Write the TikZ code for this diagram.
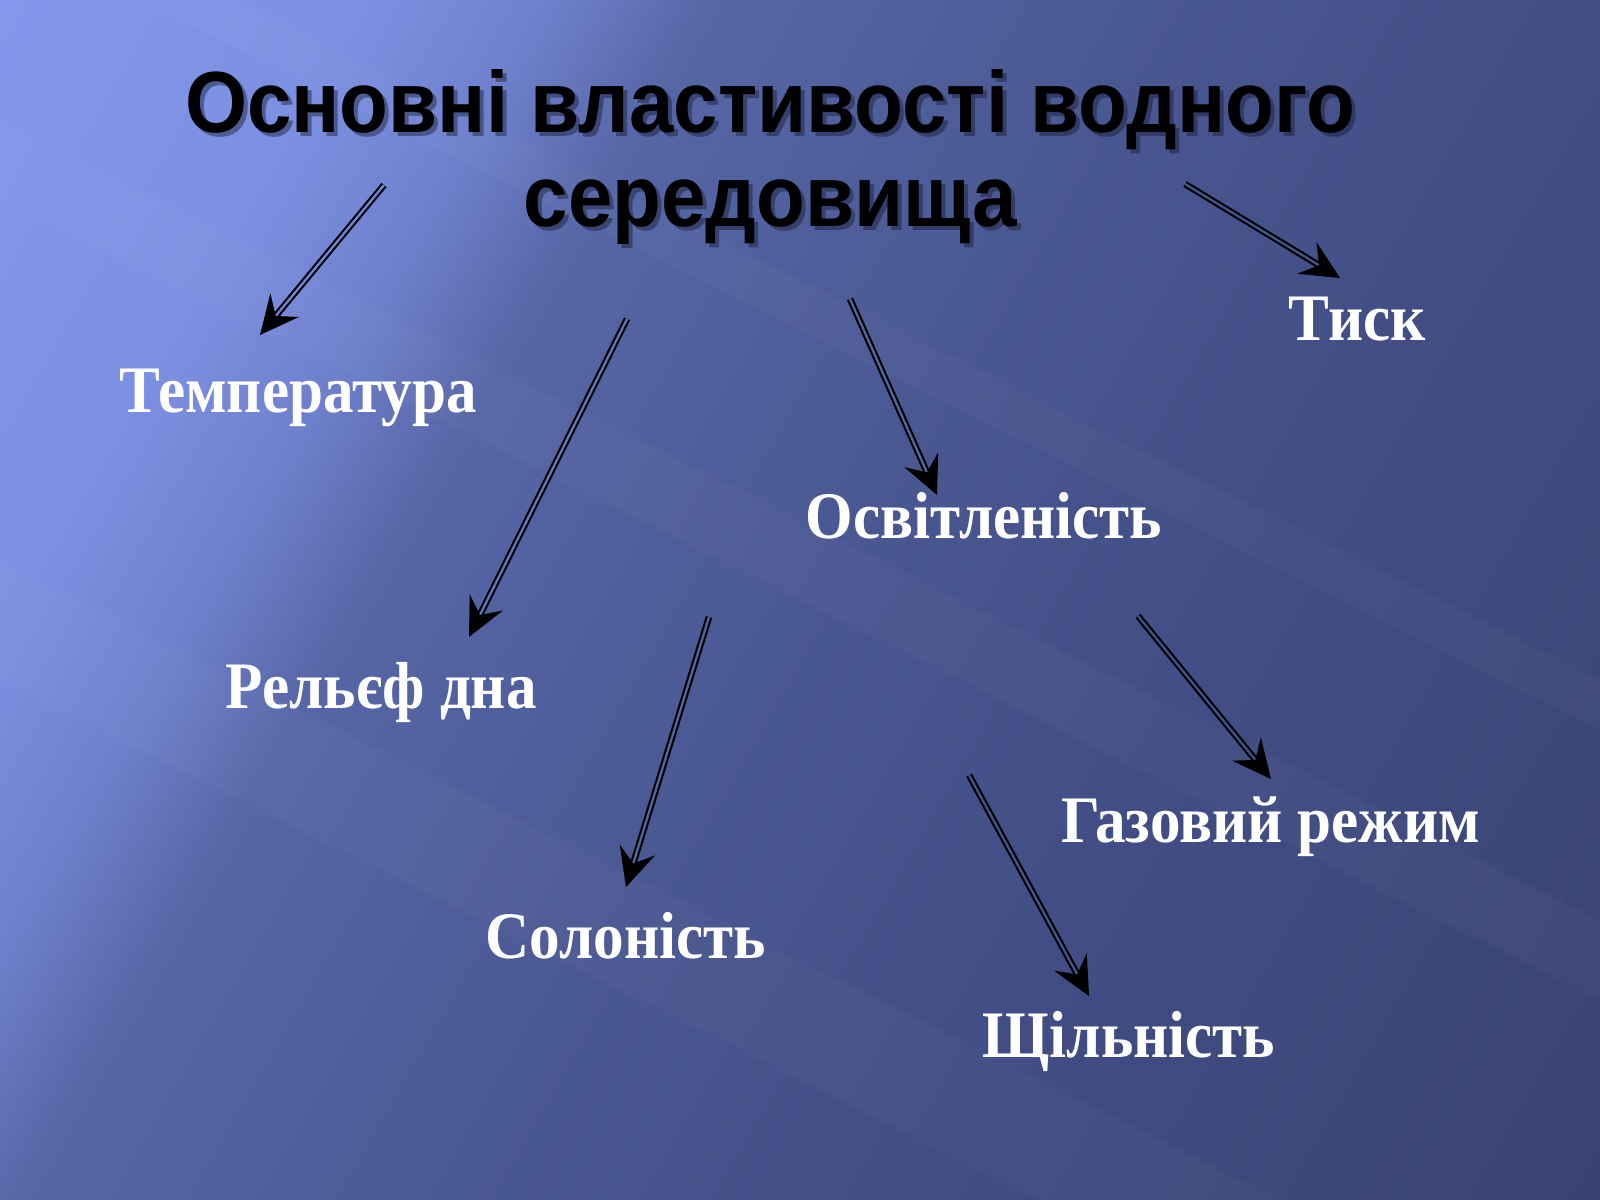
\documentclass[tikz,border=0pt]{standalone}
\usepackage{fontspec}
\usetikzlibrary{arrows.meta,calc}
\newfontfamily\titlefont{Liberation Sans}[FakeStretch=0.92]
\newfontfamily\labelfont{Liberation Serif}[FakeStretch=0.92]
\definecolor{bg0}{HTML}{8398EC}
\definecolor{bg1}{HTML}{7C90E2}
\definecolor{bg2}{HTML}{6E80CC}
\definecolor{bg3}{HTML}{5666A6}
\definecolor{bg4}{HTML}{4A5892}
\definecolor{bg5}{HTML}{414D84}
\definecolor{bg6}{HTML}{394372}
\definecolor{gA}{HTML}{7385D5}
\definecolor{gB}{HTML}{6474BD}
\definecolor{gC}{HTML}{56669F}
\definecolor{gD}{HTML}{46538C}
\definecolor{gE}{HTML}{56649F}
\definecolor{gF}{HTML}{44508A}
\definecolor{shadowc}{HTML}{161A33}
\pgfdeclarehorizontalshading{bgshade}{100bp}{color(0bp)=(bg0); color(25bp)=(bg0); color(33bp)=(bg1); color(37bp)=(bg2); color(40.5bp)=(bg3); color(50.2bp)=(bg4); color(60.2bp)=(bg5); color(75bp)=(bg6); color(100bp)=(bg6)}
\tikzset{
  conn/.style={draw=black, double=#1, double distance=0.65pt, line width=0.6pt,
    -{Stealth[length=11pt, width=10.5pt, inset=4pt]}},
  lbl/.style={text=white, font=\labelfont\bfseries\fontsize{18.9}{22}\selectfont,
    inner sep=0pt, anchor=base west},
  ttl/.style={font=\titlefont\bfseries\fontsize{24.7}{30}\selectfont,
    inner sep=0pt, anchor=base},
  streak/.style={fill=white, opacity=0.025}
}
\begin{document}
\begin{tikzpicture}[x=0.01cm, y=-0.01cm]
\useasboundingbox (0,0) rectangle (1600,1200);
% background
\begin{scope}
  \clip (0,0) rectangle (1600,1200);
  \begin{scope}[transform canvas={rotate around={-30:(0,0)}}]
    \shade[shading=bgshade] (0,-800) rectangle (1986,1040);
  \end{scope}
  \fill[streak] (0,560) -- (1600,1360) -- (1600,1480) -- (0,680) -- cycle;
  \fill[streak] (0,120) -- (1600,920) -- (1600,1000) -- (0,200) -- cycle;
  \fill[streak] (0,-120) -- (1600,680) -- (1600,730) -- (0,-70) -- cycle;
\end{scope}
% title
\node[ttl, text=shadowc, opacity=0.45] at (774,136) {Основні властивості водного};
\node[ttl, text=shadowc, opacity=0.45] at (774,230) {середовища};
\node[ttl, text=black] (title) at (770,132) {Основні властивості водного};
\node[ttl, text=black] (title2) at (770,226) {середовища};
% labels
\node[lbl] (temp) at (119,412) {Температура};
\node[lbl] (tysk) at (1288,340) {Тиск};
\node[lbl] (osv) at (805,538) {Освітленість};
\node[lbl] (rel) at (225,708) {Рельєф дна};
\node[lbl] (sol) at (485,958) {Солоність};
\node[lbl] (gaz) at (1061,842) {Газовий режим};
\node[lbl] (shch) at (982,1057) {Щільність};
% arrow end points
\coordinate (s1) at (384,185);   \coordinate (e1) at (260,335);
\coordinate (s2) at (627,319);   \coordinate (e2) at (469,637);
\coordinate (s3) at (850,299);   \coordinate (e3) at (937,495);
\coordinate (s4) at (1185,184);  \coordinate (e4) at (1340,278);
\coordinate (s5) at (709,617);   \coordinate (e5) at (626,887);
\coordinate (s6) at (1138,616);  \coordinate (e6) at (1271,779);
\coordinate (s7) at (969,775);   \coordinate (e7) at (1089,996);
\draw[conn=gA] (s1) -- (e1);
\draw[conn=gB] (s2) -- (e2);
\draw[conn=gC] (s3) -- (e3);
\draw[conn=gD] (s4) -- (e4);
\draw[conn=gE] (s5) -- (e5);
\draw[conn=gF] (s6) -- (e6);
\draw[conn=gD] (s7) -- (e7);
\end{tikzpicture}
\end{document}
